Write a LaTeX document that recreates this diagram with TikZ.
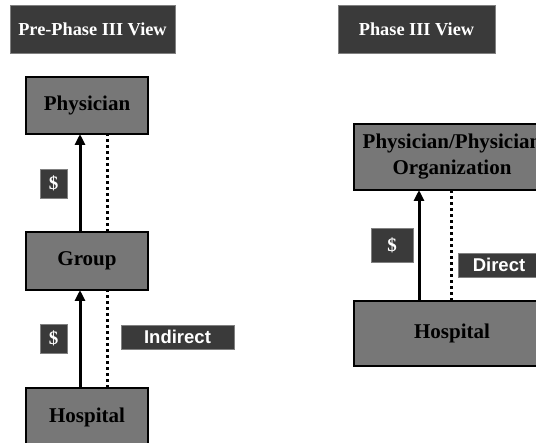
\documentclass[tikz,border=0pt]{standalone}
\usepackage{fontspec}
\setmainfont{Liberation Serif}
\newfontfamily\sansf{Liberation Sans}
\usetikzlibrary{arrows.meta}
\definecolor{boxgray}{HTML}{777777}
\definecolor{darkbox}{HTML}{3A3A3A}
\tikzset{
  ent/.style={draw=black, line width=2pt, fill=boxgray, inner sep=0pt, outer sep=0pt,
    font=\fontsize{21}{26}\selectfont\bfseries, align=center},
  titlebox/.style={draw=gray, line width=0.8pt, fill=darkbox, inner sep=0pt, outer sep=0pt,
    text=white, font=\fontsize{18.3}{20}\selectfont\bfseries},
  dollar/.style={draw=gray, line width=0.6pt, fill=darkbox, inner sep=0pt, outer sep=0pt,
    text=white, font=\fontsize{19}{20}\selectfont\bfseries},
  tag/.style={draw=gray, line width=0.6pt, fill=darkbox, inner sep=0pt, outer sep=0pt,
    text=white, font=\sansf\fontsize{18.5}{20}\selectfont\bfseries},
  money/.style={line width=3pt, -{Triangle[width=10pt,length=11pt]}},
  link/.style={line width=3pt, dash pattern=on 3pt off 3pt}
}
\begin{document}
\begin{tikzpicture}[x=1pt,y=-1pt]
\useasboundingbox (0,0) rectangle (536,443);
\clip (0,0) rectangle (536,443);
% titles
\node[titlebox, minimum width=165pt, minimum height=48pt] (t1) at (92.5,29) {Pre-Phase III View};
\node[titlebox, minimum width=157pt, minimum height=48pt] (t2) at (416.5,29) {Phase III View};
% left column
\node[ent, minimum width=122pt, minimum height=57pt] (phys) at (87,105.5) {Physician};
\node[ent, minimum width=122pt, minimum height=58pt] (grp) at (87,261) {Group};
\node[ent, minimum width=122pt, minimum height=59pt] (hosp) at (87,417.5) {Hospital};
\coordinate (s1) at (80,0);
\coordinate (d1) at (107,0);
\draw[money] (grp.north -| s1) -- (phys.south -| s1);
\draw[link] (grp.north -| d1) -- (phys.south -| d1);
\draw[money] (hosp.north -| s1) -- (grp.south -| s1);
\draw[link] (hosp.north -| d1) -- (grp.south -| d1);
\node[dollar, minimum width=27pt, minimum height=29pt] (m1) at (53.5,183.5) {\$};
\node[dollar, minimum width=27pt, minimum height=29pt] (m2) at (53.5,338.5) {\$};
\node[tag, minimum width=113pt, minimum height=24pt] (ind) at (177.5,337) {Indirect};
% right column
\node[ent, minimum width=196pt, minimum height=66pt] (org) at (452,157) {Physician/Physician\\Organization};
\node[ent, minimum width=196pt, minimum height=65pt] (hosp2) at (452,333.5) {Hospital};
\coordinate (s2) at (419,0);
\coordinate (d2) at (451,0);
\draw[money] (hosp2.north -| s2) -- (org.south -| s2);
\draw[link] (hosp2.north -| d2) -- (org.south -| d2);
\node[dollar, minimum width=42pt, minimum height=34pt] (m3) at (392,245) {\$};
\node[tag, minimum width=82pt, minimum height=24pt] (dir) at (499,265) {Direct};
\end{tikzpicture}
\end{document}
